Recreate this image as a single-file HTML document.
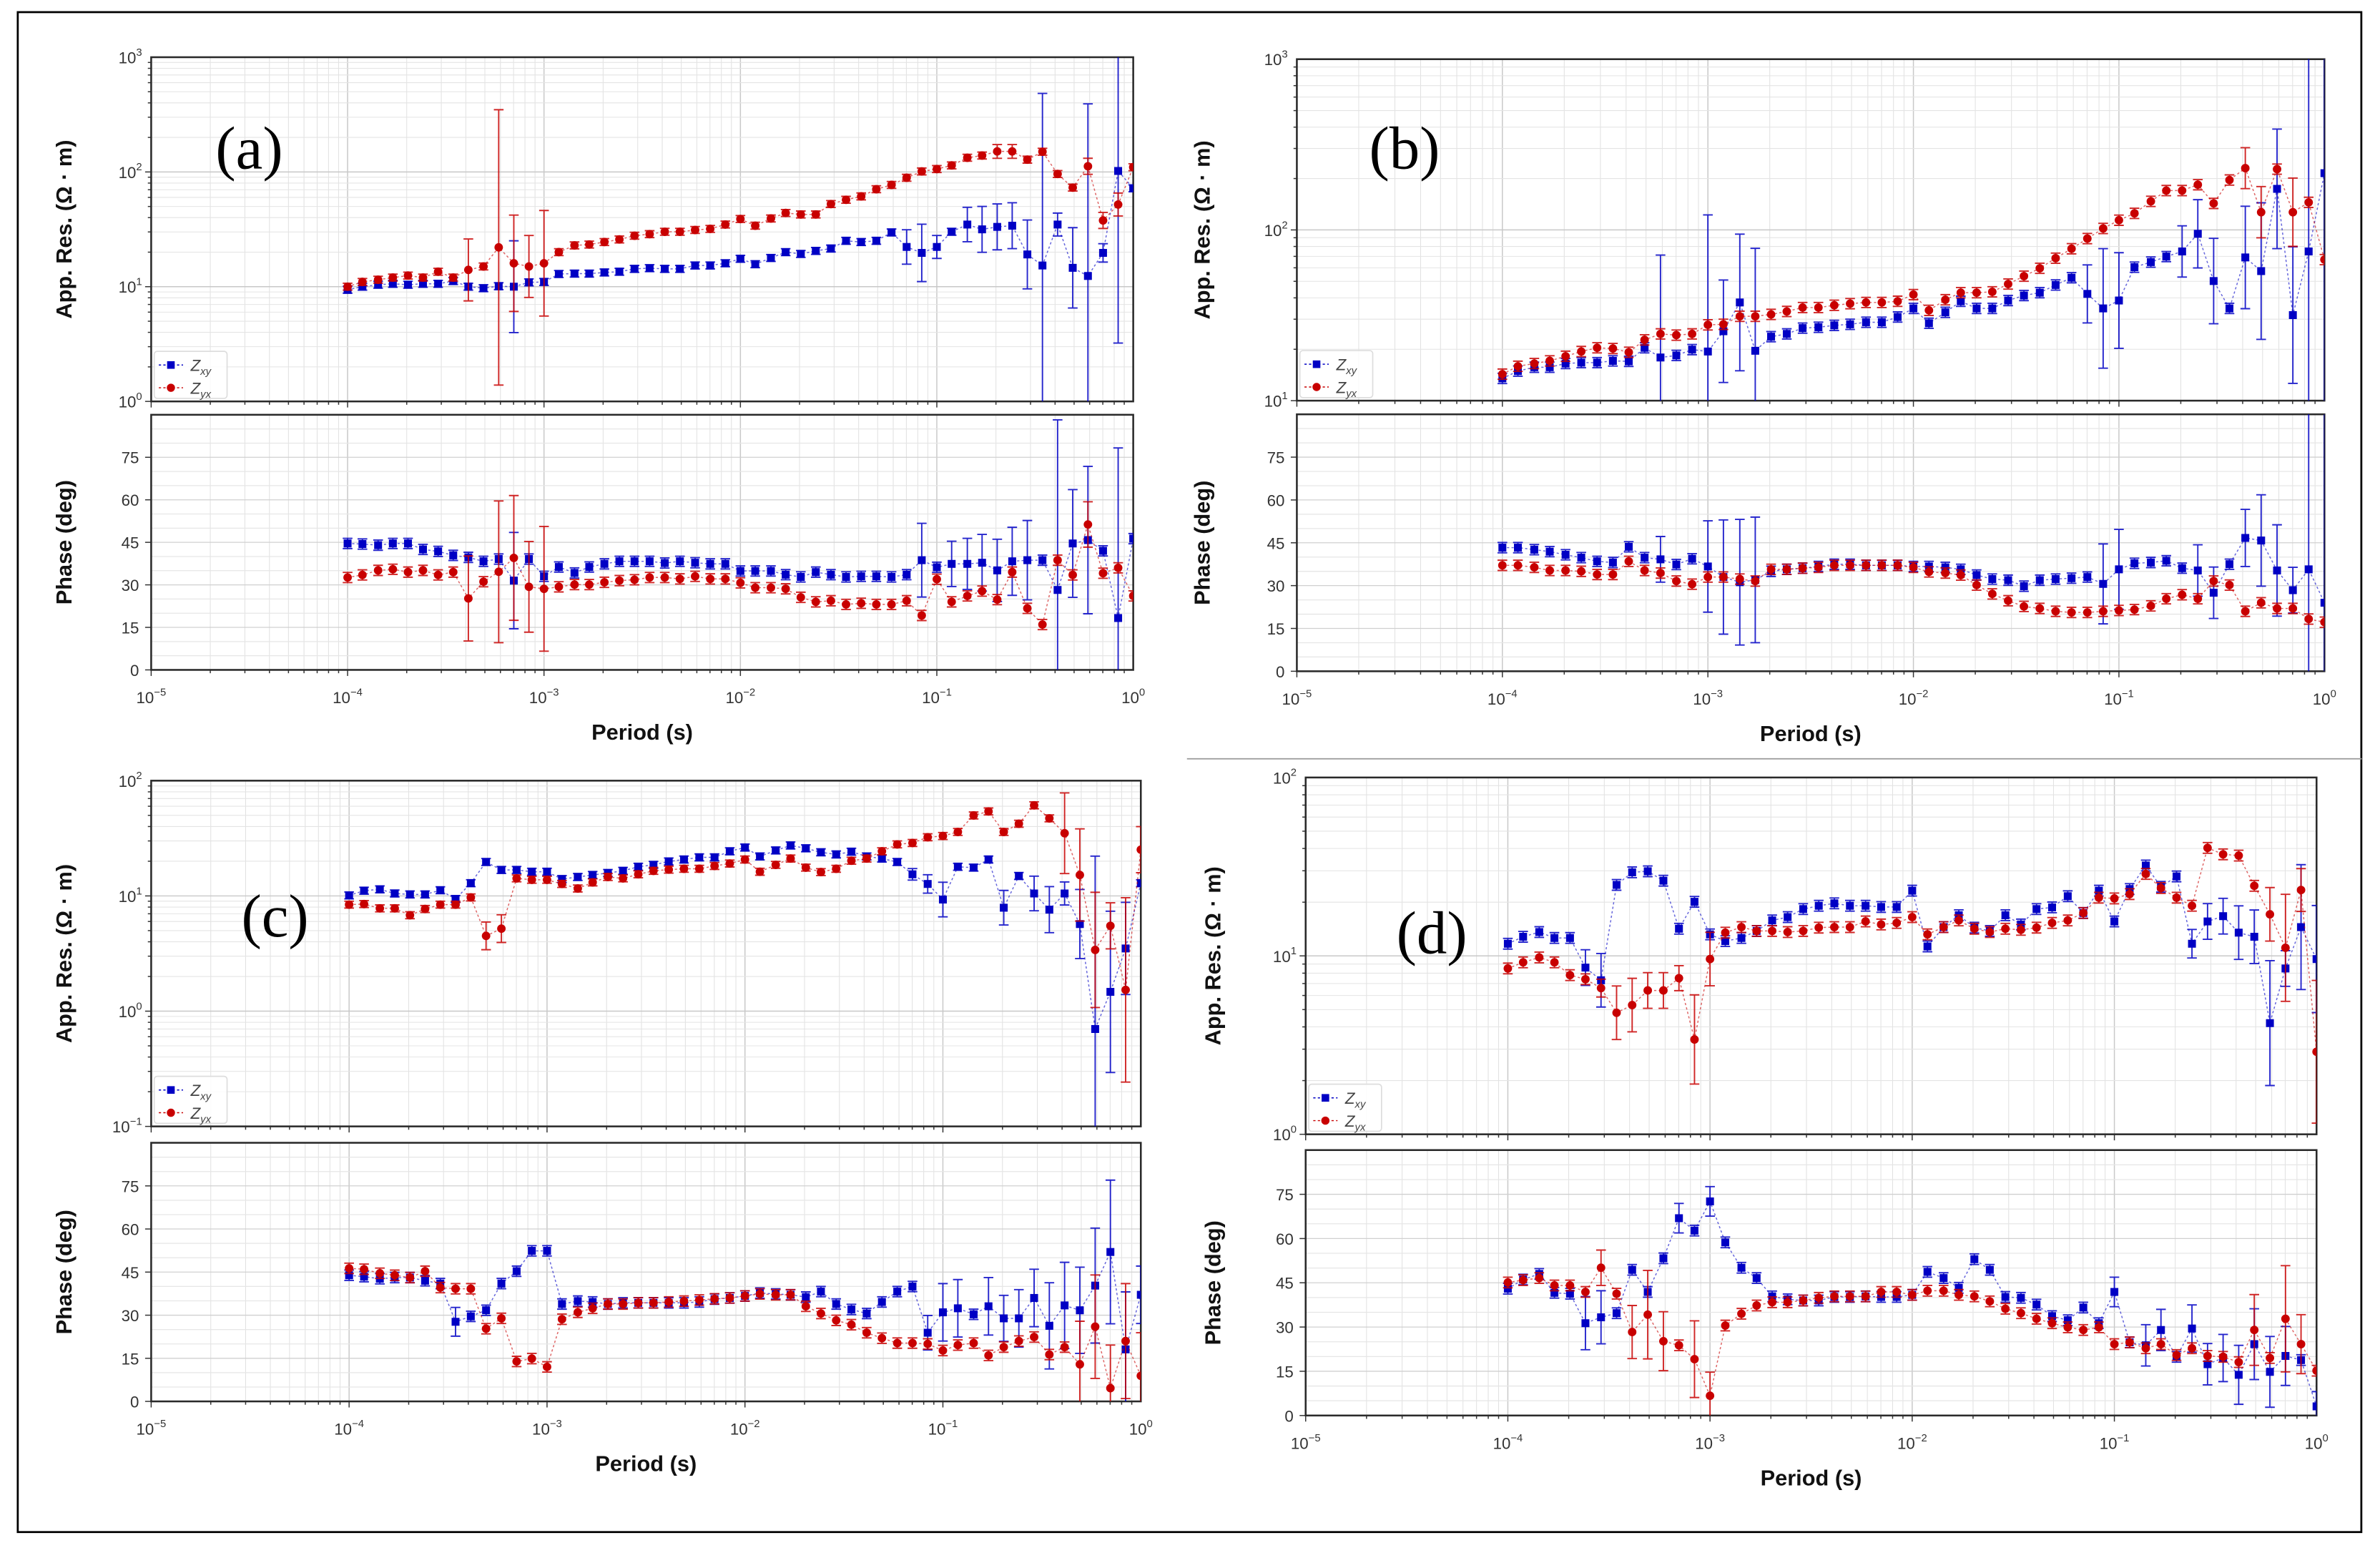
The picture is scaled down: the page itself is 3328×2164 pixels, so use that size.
<!DOCTYPE html>
<html><head><meta charset="utf-8"><title>MT sounding curves (a)-(d)</title>
<style>
html,body{margin:0;padding:0;background:#fff;}
svg{display:block;}
text{font-family:"Liberation Sans","DejaVu Sans",sans-serif;}
</style></head>
<body>
<svg id="fig" xmlns="http://www.w3.org/2000/svg" width="3328" height="2164" viewBox="0 0 1568 1020" preserveAspectRatio="none">
<rect x="11.7" y="8" width="1544" height="1001.5" fill="#fff" stroke="#000" stroke-width="1.3"/>
<line x1="782" y1="500" x2="1556" y2="500" stroke="#999" stroke-width="0.8"/>
</svg>
<script>
const periods = [1.00e-4,1.19e-4,1.43e-4,1.70e-4,2.03e-4,2.42e-4,2.89e-4,3.45e-4,4.12e-4,4.92e-4,5.88e-4,7.02e-4,8.38e-4,
1.00e-3,1.19e-3,1.43e-3,1.70e-3,2.03e-3,2.42e-3,2.89e-3,3.45e-3,4.12e-3,4.92e-3,5.88e-3,7.02e-3,8.38e-3,
1.00e-2,1.19e-2,1.43e-2,1.70e-2,2.03e-2,2.42e-2,2.89e-2,3.45e-2,4.12e-2,4.92e-2,5.88e-2,7.02e-2,8.38e-2,
1.00e-1,1.19e-1,1.43e-1,1.70e-1,2.03e-1,2.42e-1,2.89e-1,3.45e-1,4.12e-1,4.92e-1,5.88e-1,7.02e-1,8.38e-1,1.00];
const xTickExps = [-5,-4,-3,-2,-1,0];
const phaseTicks = [0,15,30,45,60,75];

// ---- panel (a) ----
const aResXY = [9.4,10,10.4,10.6,10.4,10.6,10.6,11.2,10,9.7,10.1,10,10.9,11,12.9,13.0,13.0,13.3,13.5,14.3,14.5,14.3,14.3,15.3,15.3,16.0,17.5,15.7,17.8,20.0,19.3,20.5,21.5,25.1,24.5,25.1,29.7,22.2,19.7,22.2,30.1,34.8,31.6,33.2,34.0,19.1,15.3,34.8,14.6,12.4,19.7,102,72];
const aResYX = [10,11,11.5,12,12.5,12,13.5,12,14,15,22,16,15,16,20,22.9,23.3,24.5,25.8,27.8,28.7,30.1,30.1,31.2,31.9,34.8,38.9,34.0,39.3,43.9,42.6,42.6,52.5,57.2,61.2,70.7,77.1,89,101,106,114,133,139,151,151,128,150,96,73,112,37.8,52,110];
const aPhXY = [44.6,44.4,44,44.6,44.6,42.5,41.8,40.4,39.7,38.3,39.1,31.5,39.1,33,36.3,34.2,36.3,37.4,38.3,38.3,38.3,37.7,38.3,37.8,37.4,37.4,34.9,34.9,34.9,33.6,32.8,34.5,33.6,32.8,33,33,32.8,33.6,38.7,36.2,37.4,37.4,37.8,35.1,38.3,38.7,38.7,28.2,44.6,45.8,42,18.3,46.3];
const aPhYX = [32.6,33.5,35.1,35.5,34.5,35.1,33.5,34.5,25.2,31.1,34.6,39.5,29.3,28.6,29.3,30.1,30.1,30.9,31.5,31.8,32.6,32.6,32.1,33,32.1,32.1,30.7,29,29,28.6,25.6,24,24.4,23.1,23.5,23.1,23.1,24.4,19.2,32,24,26.1,27.8,24.8,34.5,21.7,16,38.7,33.5,51.3,34.1,36,26.1];
const aResXYErr = {11:0.4,37:0.15,38:0.25,39:0.1,41:0.15,42:0.2,43:0.2,44:0.2,45:0.3,46:1.5,47:0.1,48:0.35,49:1.5,50:0.08,51:1.5};
const aResYXErr = {8:0.27,10:1.2,11:0.42,12:0.27,13:0.46,43:0.06,44:0.06,49:0.07,50:0.07,51:0.1};
const aPhXYErr = {11:17,38:13,40:8,41:9,42:10,43:11,44:12,45:14,47:60,48:19,49:26,51:60};
const aPhYXErr = {8:15,10:25,11:22,12:16,13:22,49:8};

// ---- panel (b) ----
const bResXY = [13.5,14.9,15.7,15.7,16.5,16.7,16.7,17.1,17,20.4,17.9,18.4,19.9,19.4,25.5,37.6,19.6,23.7,24.6,26.6,26.9,27.6,28,28.8,28.8,30.9,34.7,28.4,32.9,38.2,34.7,34.7,38.6,41.3,42.9,47.6,52.5,42.2,34.7,38.6,60.5,64.8,69.8,74.8,94.9,50.2,34.7,69,57.4,174,31.7,74.8,215];
const bResYX = [14.3,15.9,16.5,17.1,18.2,19.4,20.4,20.2,19.2,22.7,24.6,24.2,24.6,27.8,28,31.2,31.2,32,33.3,35.1,35.1,36.2,37,37.6,37.6,38.2,41.8,33.8,39,42.9,42.9,43.4,48.2,53.6,59.6,68.3,77.6,89,102,114,125,147,170,170,184,143,196,230,127,227,127,145,67];
const bPhXY = [43.3,43.3,42.6,41.9,40.8,39.8,38.5,38.1,43.6,39.8,39.2,37.4,39.4,36.7,33,31.2,32,35,35.7,36.1,36.7,37.5,37.5,37.1,37.1,37.1,36.7,36.7,36.4,35.7,33.7,32.3,31.9,29.8,31.9,32.3,32.6,33,30.6,35.7,37.8,38.1,38.7,36.1,35.3,27.5,37.5,46.7,45.8,35.3,28.4,35.7,24];
const bPhYX = [37.1,37.1,36.4,35.3,35.3,35,33.9,33.9,38.5,35.3,34.4,31.6,30.5,33,33,32.3,31.6,35.7,35.7,36.1,36.4,37.1,37.1,37.1,37.1,37.1,36.4,34.8,34.4,33.7,30.2,27.1,24.7,22.7,22,21,20.6,20.6,21,21.3,21.6,22.9,25.4,26.8,25.4,31.6,30.2,21,24,22,22,18.3,17.2];
const bResXYErr = {10:0.6,13:0.8,14:0.3,15:0.4,16:0.6,37:0.17,38:0.35,39:0.28,43:0.15,44:0.2,45:0.25,47:0.3,48:0.4,49:0.35,50:0.4,51:1.5,52:1.5};
const bResYXErr = {47:0.12,48:0.15,50:0.2};
const bPhXYErr = {10:8,13:16,14:20,15:22,16:22,38:14,39:14,44:9,45:9,47:10,48:16,49:16,50:8,51:90,52:90};
const bPhYXErr = {};

// ---- panel (c) ----
const cResXY = [10.1,11.1,11.4,10.5,10.3,10.3,11.2,9.4,12.9,19.7,16.8,16.8,16.2,16.2,14,14.6,15.2,15.8,16.5,17.9,18.6,19.9,20.7,21.6,21.6,24.4,26.3,22,24.8,27.4,25.9,23.9,22.9,24.2,22,21.1,19.7,15.4,12.7,9.3,17.9,17.6,20.7,7.9,14.9,10.5,7.6,10.5,5.7,0.70,1.47,3.5,12.9];
const cResYX = [8.4,8.5,7.8,7.8,6.8,7.7,8.4,8.4,9.7,4.5,5.2,14.2,13.8,13.8,12.7,11.6,13.1,14.6,14.2,15.4,16.5,16.9,17.2,17.2,18.2,19.1,20.7,16.2,18.6,21.1,17.6,16.1,17.2,20.2,21.1,24.4,28,28.8,32.3,33.1,35.9,49.9,54.1,35.9,42.3,61.1,47.1,35,15.2,3.4,5.5,1.53,25.2];
const cPhXY = [43.9,43.4,42.7,43.1,43.1,42,41,27.7,29.6,31.7,41,45.3,52.4,52.4,33.9,34.9,34.6,33.9,34.3,34.3,34.3,34.3,34.3,34.6,35.6,36,36.7,37.7,37.4,37.1,36.3,38.2,33.9,32,30.6,34.6,38.2,40,23.9,31,32.4,30.3,33.1,28.9,28.9,36,26.3,33.4,31.7,40.3,52,18.1,37.1];
const cPhYX = [46.3,46,44.6,43.9,43.1,45.3,39.6,39.2,39.2,25.3,28.9,13.9,14.9,12,28.6,31,32.4,33.9,33.9,34.3,34.3,34.6,34.9,35.3,35.7,36,36.7,37.4,37.1,37.1,33.1,30.6,28.2,26.7,23.9,22,20.3,20.3,20,17.7,19.6,20.3,16,18.9,21,22.4,16.3,18.9,12.9,26,4.6,21,8.9];
const cResXYErr = {37:0.05,38:0.08,39:0.15,43:0.15,45:0.15,46:0.2,47:0.1,48:0.3,49:1.5,50:0.7,51:0.4};
const cResYXErr = {9:0.12,10:0.12,47:0.35,48:0.4,49:0.5,50:0.2,51:0.8,52:0.2};
const cPhXYErr = {7:5,38:6,39:10,40:10,42:10,43:8,44:10,45:10,46:15,47:15,48:15,49:20,50:25,51:20,52:10};
const cPhYXErr = {48:15,49:18,50:15,51:20,52:15};

// ---- panel (d) ----
const dResXY = [11.7,12.8,13.6,12.6,12.6,8.6,7.3,25,29.4,29.8,26.4,14.2,20.1,13.2,12.1,12.6,13.8,15.8,16.5,18.3,19.1,19.7,19.1,19.1,18.8,18.8,23.2,11.3,14.5,16.9,14.4,13.8,16.9,15,18.3,18.7,21.6,17.4,23.2,15.6,23.7,32.1,24.4,27.9,11.7,15.6,16.7,13.5,12.8,4.2,8.5,14.5,9.6];
const dResYX = [8.5,9.2,9.8,9.2,7.8,7.4,6.6,4.8,5.3,6.4,6.4,7.5,3.4,9.6,13.5,14.5,13.8,13.8,13.6,13.8,14.4,14.5,14.5,15.6,15,15.3,16.5,13.2,14.5,15.8,14.2,13.6,14.2,14,14.4,15.3,15.8,17.4,21.2,21,22.2,28.8,24,21.2,19.1,40.3,37.1,36.5,24.7,17.1,11.1,23.4,2.9];
const dPhXY = [43,46.1,48,41.6,41.3,31.3,33.3,34.7,49.4,41.9,53.3,66.9,62.7,72.6,58.7,50.1,46.6,40.4,39.4,39,39,40.2,40.2,40.4,40.2,40.2,40.9,48.7,46.6,43.3,53,49.4,40.2,39.9,37.6,33.7,32.3,36.6,31.3,41.9,24.8,23.8,29,19.9,29.5,17.4,19.5,13.8,24.2,14.8,20.2,18.8,3.1];
const dPhYX = [45.1,45.9,46.6,44.1,44.1,41.9,50.1,41.3,28.3,34.2,25.2,23.8,19.1,6.7,30.5,34.5,37.3,38.4,38.4,39,39.9,40.4,40.4,40.4,41.9,41.9,40.9,42.3,42.3,40.9,40.4,38.7,36.2,34.7,32.8,31.3,29.9,29,29.9,24.2,24.8,22.8,24.2,20.5,22.8,20.2,19.9,18.1,29,19.5,32.8,24.2,15.2];
const dResXYErr = {5:0.1,6:0.15,44:0.08,45:0.1,46:0.1,47:0.15,48:0.15,49:0.35,50:0.1,51:0.35,52:0.3};
const dResYXErr = {6:0.05,7:0.15,8:0.15,9:0.1,10:0.1,11:0.07,12:0.25,13:0.15,49:0.15,50:0.3,51:0.12,52:0.4};
const dPhXYErr = {5:9,6:9,11:5,13:5,39:5,41:7,42:7,44:8,45:7,46:8,47:10,48:12,49:12,50:10,52:5};
const dPhYXErr = {6:6,8:9,9:15,10:10,12:13,13:8,48:12,50:18,51:10};

const NS = 'http://www.w3.org/2000/svg';
const svg = document.getElementById('fig');
const BLUE = '#0000c4', RED = '#c80000';

function mk(tag, parent) { const e = document.createElementNS(NS, tag); parent.appendChild(e); return e; }
function set(e, o) { for (const k in o) e.setAttribute(k, o[k]); return e; }

function drawPanel(id, cfg, resXY, resYX, phXY, phYX, eResXY, eResYX, ePhXY, ePhYX) {
  const g = mk('g', svg);
  
  
  const X = p => cfg.x0 + (Math.log10(p) + 5) * cfg.dec;
  const x1 = cfg.x0 + 5 * cfg.dec;
  const YR = v => cfg.appBot - (Math.log10(v) - cfg.emin) / (cfg.emax - cfg.emin) * (cfg.appBot - cfg.appTop);
  const YP = v => cfg.phBot - v / 90 * (cfg.phBot - cfg.phTop);

  // clip paths
  const defs = mk('defs', g);
  const c1 = set(mk('clipPath', defs), {id: 'clipA' + id});
  set(mk('rect', c1), {x: cfg.x0, y: cfg.appTop, width: x1 - cfg.x0, height: cfg.appBot - cfg.appTop});
  const c2 = set(mk('clipPath', defs), {id: 'clipP' + id});
  set(mk('rect', c2), {x: cfg.x0, y: cfg.phTop, width: x1 - cfg.x0, height: cfg.phBot - cfg.phTop});

  [['app', cfg.appTop, cfg.appBot], ['phase', cfg.phTop, cfg.phBot]].forEach(([kind, top, bot]) => {
    const ax = mk('g', g);
    
    
    // vertical grid
    for (let k = -5; k < 0; k++) for (let d = 1; d <= 9; d++) {
      const x = cfg.x0 + (k + 5 + Math.log10(d)) * cfg.dec;
      const ln = set(mk('line', ax), {x1: x, x2: x, y1: top, y2: bot, stroke: d === 1 ? '#c8c8c8' : '#e2e2e2', 'stroke-width': d === 1 ? 0.7 : 0.5});
      
      
      const tk = set(mk('line', ax), {x1: x, x2: x, y1: bot, y2: bot + (d === 1 ? 4 : 2.2), stroke: '#333', 'stroke-width': 0.7});
      
      
    }
    // horizontal grid
    if (kind === 'app') {
      for (let k = cfg.emin; k < cfg.emax; k++) for (let d = 1; d <= 9; d++) {
        const y = YR(d * Math.pow(10, k));
        const ln = set(mk('line', ax), {x1: cfg.x0, x2: x1, y1: y, y2: y, stroke: d === 1 ? '#c8c8c8' : '#e4e4e4', 'stroke-width': d === 1 ? 0.7 : 0.5});
        
        
        const tk = set(mk('line', ax), {x1: cfg.x0 - (d === 1 ? 4 : 2.2), x2: cfg.x0, y1: y, y2: y, stroke: '#333', 'stroke-width': 0.7});
        
        
      }
      for (let k = cfg.emin; k <= cfg.emax; k++) {
        const t = set(mk('text', ax), {x: cfg.x0 - 6, y: YR(Math.pow(10, k)) + 4, 'text-anchor': 'end', 'font-size': 10.5, fill: '#333'});
        
        
        t.appendChild(document.createTextNode('10'));
        const s = set(mk('tspan', t), {dy: -5, 'font-size': 7});
        s.textContent = String(k).replace('-', '\u2212');
      }
    } else {
      for (let v = 5; v < 90; v += 5) {
        const y = YP(v);
        const ln = set(mk('line', ax), {x1: cfg.x0, x2: x1, y1: y, y2: y, stroke: v % 15 === 0 ? '#d0d0d0' : '#e6e6e6', 'stroke-width': 0.6});
        
        
      }
      phaseTicks.forEach(v => {
        const y = YP(v);
        const tk = set(mk('line', ax), {x1: cfg.x0 - 4, x2: cfg.x0, y1: y, y2: y, stroke: '#333', 'stroke-width': 0.7});
        
        
        const t = set(mk('text', ax), {x: cfg.x0 - 8, y: y + 4, 'text-anchor': 'end', 'font-size': 10.5, fill: '#333'});
        
        
        t.textContent = v;
      });
    }
    const fr = set(mk('rect', ax), {x: cfg.x0, y: top, width: x1 - cfg.x0, height: bot - top, fill: 'none', stroke: '#2a2a2a', 'stroke-width': 1.2});
    
    
  });

  // x tick labels
  xTickExps.forEach(k => {
    const t = set(mk('text', g), {x: cfg.x0 + (k + 5) * cfg.dec, y: cfg.phBot + 22, 'text-anchor': 'middle', 'font-size': 10.5, fill: '#333'});
    
    
    t.appendChild(document.createTextNode('10'));
    const s = set(mk('tspan', t), {dy: -5, 'font-size': 7});
    s.textContent = String(k).replace('-', '\u2212');
  });
  const xl = set(mk('text', g), {x: cfg.x0 + 2.52 * cfg.dec + 0.5 * (x1 - cfg.x0) - 2.52 * cfg.dec, y: cfg.phBot + 46, 'text-anchor': 'middle', 'font-size': 14.5, 'font-weight': 'bold', fill: '#111'});
  
  
  xl.textContent = 'Period (s)';
  const yl1 = set(mk('text', g), {x: 0, y: 0, transform: `translate(${cfg.labX},${(cfg.appTop + cfg.appBot) / 2}) rotate(-90)`, 'text-anchor': 'middle', 'font-size': 14.5, 'font-weight': 'bold', fill: '#111'});
  
  
  yl1.textContent = 'App. Res. (\u03A9 \u00B7 m)';
  const yl2 = set(mk('text', g), {x: 0, y: 0, transform: `translate(${cfg.labX},${(cfg.phTop + cfg.phBot) / 2}) rotate(-90)`, 'text-anchor': 'middle', 'font-size': 14.5, 'font-weight': 'bold', fill: '#111'});
  
  
  yl2.textContent = 'Phase (deg)';

  // series
  function series(vals, errs, Y, isRes, color, square, clipId, name) {
    const sg = set(mk('g', g), {'clip-path': `url(#${clipId})`});
    
    
    const pts = vals.map((v, i) => [X(periods[i]), Y(v)]);
    const pl = set(mk('polyline', sg), {points: pts.map(p => p.join(',')).join(' '), fill: 'none', stroke: color, 'stroke-width': 0.7, 'stroke-dasharray': '1.5,1.5', opacity: 0.6});
    
    
    vals.forEach((v, i) => {
      const x = pts[i][0];
      const e = errs[i] !== undefined ? errs[i] : (isRes ? 0.03 : 1.8);
      const yHi = isRes ? Y(v * Math.pow(10, e)) : Y(v + e);
      const yLo = isRes ? Y(v / Math.pow(10, e)) : Y(v - e);
      const eb = set(mk('path', sg), {d: `M${x},${yHi}V${yLo}M${x - 3.2},${yHi}h6.4M${x - 3.2},${yLo}h6.4`, stroke: color, 'stroke-width': 0.9, fill: 'none', opacity: 0.85});
      
      
      let m;
      if (square) m = set(mk('rect', sg), {x: x - 2.6, y: pts[i][1] - 2.6, width: 5.2, height: 5.2, fill: color});
      else m = set(mk('circle', sg), {cx: x, cy: pts[i][1], r: 2.8, fill: color});
      
      
    });
  }
  series(resXY, eResXY, YR, true, BLUE, true, 'clipA' + id, 'zxy-res-' + id);
  series(resYX, eResYX, YR, true, RED, false, 'clipA' + id, 'zyx-res-' + id);
  series(phXY, ePhXY, YP, false, BLUE, true, 'clipP' + id, 'zxy-phase-' + id);
  series(phYX, ePhYX, YP, false, RED, false, 'clipP' + id, 'zyx-phase-' + id);

  // legend
  const lg = mk('g', g);
  
  
  const lx = cfg.x0 + 2, ly = cfg.appBot - 33;
  set(mk('rect', lg), {x: lx, y: ly, width: 48, height: 31, rx: 2, fill: '#fff', 'fill-opacity': 0.85, stroke: '#ddd', 'stroke-width': 0.8});
  [['xy', BLUE, true], ['yx', RED, false]].forEach(([sub, col, sq], j) => {
    const yy = ly + 9 + j * 15;
    const en = mk('g', lg);
    
    
    set(mk('line', en), {x1: lx + 3, x2: lx + 19, y1: yy, y2: yy, stroke: col, 'stroke-width': 0.7, 'stroke-dasharray': '1.5,1.5'});
    if (sq) set(mk('rect', en), {x: lx + 8.5, y: yy - 2.5, width: 5, height: 5, fill: col});
    else set(mk('circle', en), {cx: lx + 11, cy: yy, r: 2.7, fill: col});
    const t = set(mk('text', en), {x: lx + 24, y: yy + 4, 'font-size': 10.5, 'font-style': 'italic', fill: '#444'});
    t.appendChild(document.createTextNode('Z'));
    const s = set(mk('tspan', t), {dy: 2.5, 'font-size': 7});
    s.textContent = sub;
  });

  // panel letter
  const pl = set(mk('text', g), {x: cfg.letX, y: cfg.letY, 'font-size': 40, fill: '#000'});
  
  
  pl.style.fontFamily = '"Liberation Serif", serif';
  pl.textContent = '(' + id + ')';
}

drawPanel('a', {x0: 99.6, dec: 129.4, appTop: 37.7, appBot: 264.5, emin: 0, emax: 3, phTop: 273.3, phBot: 441.4, labX: 47, letX: 142, letY: 111},
  aResXY, aResYX, aPhXY, aPhYX, aResXYErr, aResYXErr, aPhXYErr, aPhYXErr);
drawPanel('b', {x0: 854.4, dec: 135.4, appTop: 39, appBot: 264, emin: 1, emax: 3, phTop: 273, phBot: 442.3, labX: 797, letX: 902, letY: 111},
  bResXY, bResYX, bPhXY, bPhYX, bResXYErr, bResYXErr, bPhXYErr, bPhYXErr);
drawPanel('c', {x0: 99.6, dec: 130.4, appTop: 514.4, appBot: 742.2, emin: -1, emax: 2, phTop: 753, phBot: 923.4, labX: 47, letX: 159, letY: 617},
  cResXY, cResYX, cPhXY, cPhYX, cResXYErr, cResYXErr, cPhXYErr, cPhYXErr);
drawPanel('d', {x0: 860.2, dec: 133.2, appTop: 512.3, appBot: 747.4, emin: 0, emax: 2, phTop: 757.8, phBot: 932.7, labX: 804, letX: 920, letY: 628},
  dResXY, dResYX, dPhXY, dPhYX, dResXYErr, dResYXErr, dPhXYErr, dPhYXErr);
</script>
</body></html>
